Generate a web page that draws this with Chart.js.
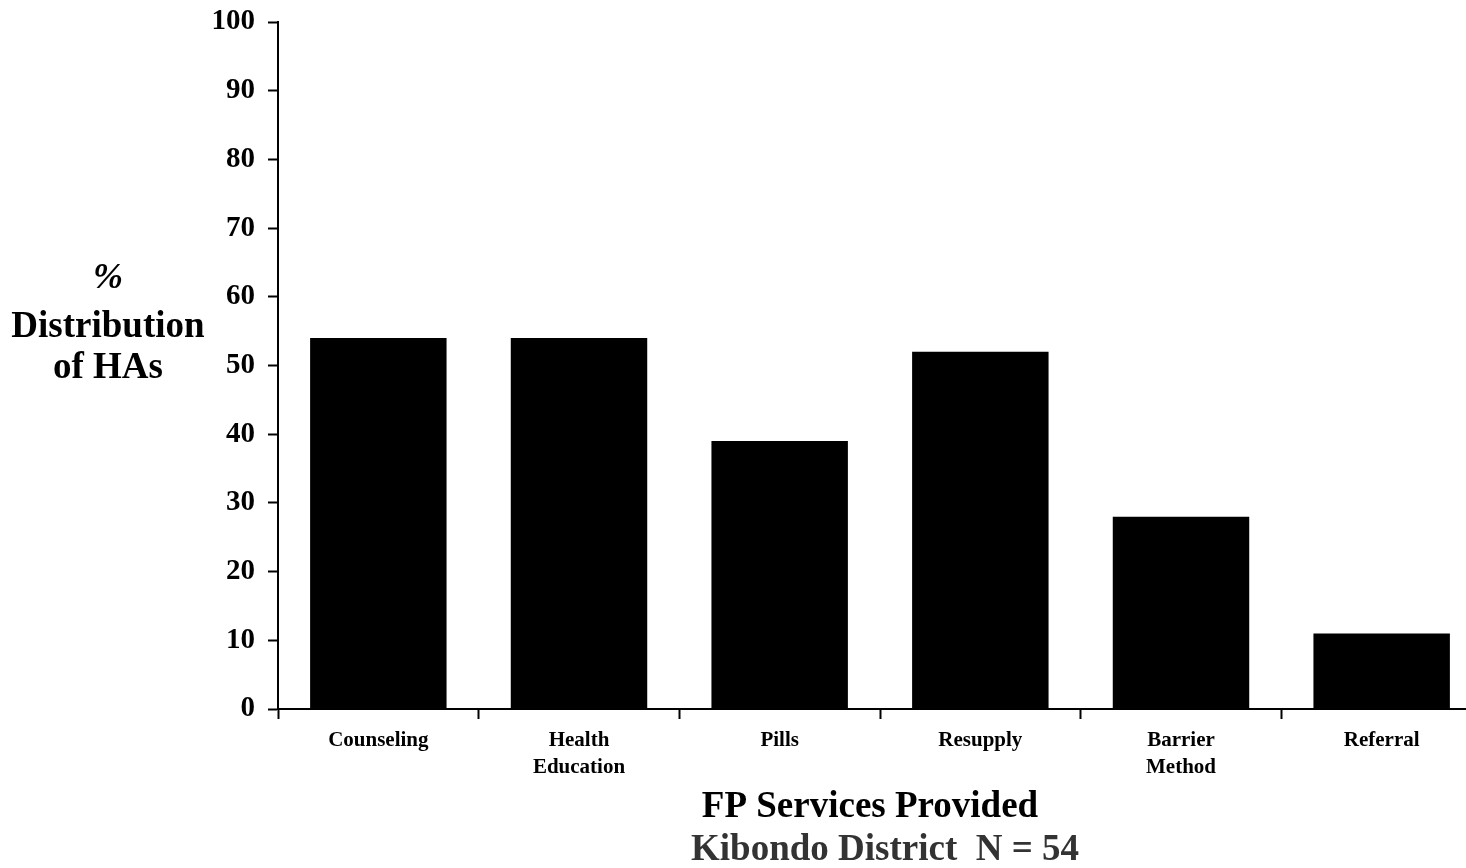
<!DOCTYPE html>
<html>
<head>
<meta charset="utf-8">
<title>FP Services Provided</title>
<script src="https://cdn.jsdelivr.net/npm/chart.js@4"></script>
<style>
  html, body { margin: 0; padding: 0; background: #fff; overflow: hidden; }
  #wrap { position: relative; width: 1482px; height: 868px; }
</style>
</head>
<body>
<div id="wrap"><canvas id="grafico"></canvas></div>
<script>
// Servicios de planificación familiar y porcentaje de HAs que los ofrecen
const servicios = ['Counseling', ['Health', 'Education'], 'Pills', 'Resupply', ['Barrier', 'Method'], 'Referral'];
const porcentajes = [54, 54, 39, 52, 28, 11];
const marcasEjeY = [0, 10, 20, 30, 40, 50, 60, 70, 80, 90, 100];

const tituloEjeY = ['%', 'Distribution', 'of HAs'];
const tituloEjeX = 'FP Services Provided';
const subtitulo = 'Kibondo District  N = 54';

const fuente = "'Liberation Serif', 'Times New Roman', serif";

// Títulos dibujados a mano: el del eje Y va horizontal, en tres líneas
const titulos = {
    id: 'titulos',
    afterDraw(chart) {
        const ctx = chart.ctx;
        ctx.save();
        ctx.textAlign = 'center';
        ctx.textBaseline = 'alphabetic';
        ctx.fillStyle = '#000';

        ctx.font = 'italic bold 36px ' + fuente;
        ctx.fillText(tituloEjeY[0], 108, 288);
        ctx.font = 'bold 37px ' + fuente;
        ctx.fillText(tituloEjeY[1], 108, 337);
        ctx.fillText(tituloEjeY[2], 108, 378);

        ctx.font = 'bold 37px ' + fuente;
        ctx.fillText(tituloEjeX, 870, 817);
        ctx.fillStyle = '#333';
        ctx.fillText(subtitulo, 885, 860);
        ctx.restore();
    }
};

const ctx = document.getElementById('grafico').getContext('2d');
const grafico = new Chart(ctx, {
    type: 'bar',
    data: {
        labels: servicios,
        datasets: [{
            data: porcentajes,
            backgroundColor: '#000',
            borderWidth: 0,
            barPercentage: 0.68,
            categoryPercentage: 1.0
        }]
    },
    options: {
        responsive: true,
        maintainAspectRatio: false,
        animation: false,
        layout: { padding: { top: 22, left: 0, right: 0, bottom: 0 } },
        plugins: {
            legend: { display: false },
            tooltip: { enabled: false }
        },
        scales: {
            x: {
                offset: true,
                grid: {
                    offset: true,
                    drawOnChartArea: false,
                    tickLength: 10,
                    tickWidth: 2,
                    color: '#000'
                },
                border: { color: '#000', width: 2 },
                ticks: {
                    color: '#000',
                    font: { family: fuente, size: 21, weight: 'bold', lineHeight: 1.3 },
                    padding: 8,
                    maxRotation: 0,
                    autoSkip: false
                },
                afterFit(scale) { scale.height = 868 - 709; }
            },
            y: {
                min: 0,
                max: 100,
                afterBuildTicks(scale) { scale.ticks = marcasEjeY.map(v => ({ value: v })); },
                grid: {
                    drawOnChartArea: false,
                    tickLength: 10,
                    tickWidth: 2,
                    color: '#000'
                },
                border: { color: '#000', width: 2 },
                ticks: {
                    color: '#000',
                    font: { family: fuente, size: 29, weight: 'bold' },
                    padding: 13
                },
                afterFit(scale) {
                    scale.width = 278;
                    scale.paddingTop = 0;
                    scale.paddingBottom = 0;
                }
            }
        }
    },
    plugins: [titulos]
});
</script>
</body>
</html>
